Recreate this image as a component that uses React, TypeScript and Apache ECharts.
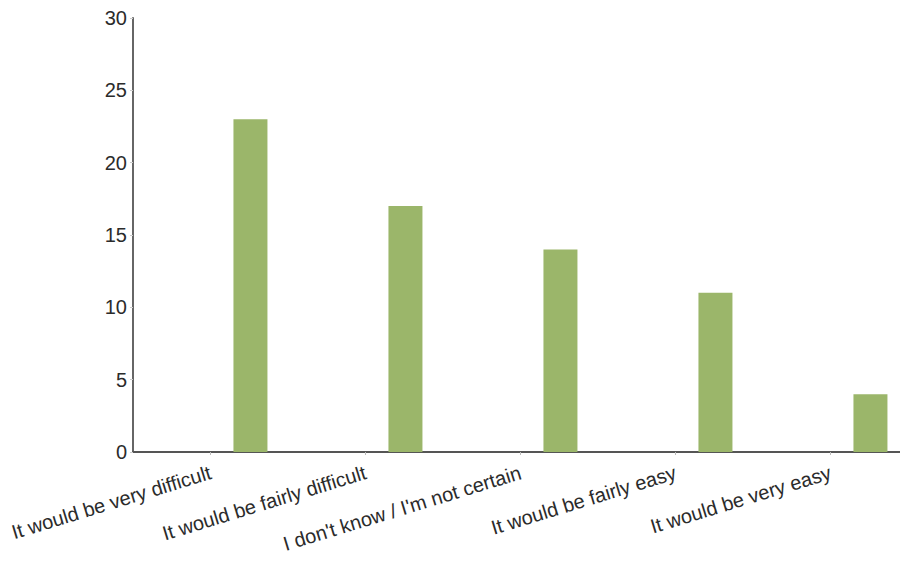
import React, { useEffect, useRef } from "react";
import * as echarts from "echarts";

const categories = [
  "It would be very difficult",
  "It would be fairly difficult",
  "I don't know / I'm not certain",
  "It would be fairly easy",
  "It would be very easy",
];
const placeholderValues = ["-", "-", "-", "-", "-"];
const responseValues = [23, 17, 14, 11, 4];
const yTicks = { min: 0, max: 30, interval: 5 };

export default function App() {
  const ref = useRef<HTMLDivElement>(null);
  useEffect(() => {
    if (!ref.current) return;
    const chart = echarts.init(ref.current, null, { renderer: "svg" });
    chart.setOption({
      animation: false,
      backgroundColor: "#ffffff",
      grid: { left: 133, top: 18, bottom: 115, width: 775, containLabel: false },
      xAxis: {
        type: "category",
        data: categories,
        axisLine: { lineStyle: { color: "#555", width: 2 } },
        axisTick: { show: true, alignWithLabel: true, length: 3, lineStyle: { color: "#bbb" } },
        axisLabel: {
          rotate: 17,
          interval: 0,
          margin: 20,
          fontSize: 20,
          color: "#2b2b2b",
          fontFamily: "Liberation Sans, Arial, sans-serif",
        },
      },
      yAxis: {
        type: "value",
        min: yTicks.min,
        max: yTicks.max,
        interval: yTicks.interval,
        splitLine: { show: false },
        axisLine: { show: true, lineStyle: { color: "#666", width: 2 } },
        axisTick: { show: true, length: 3, lineStyle: { color: "#ccc" } },
        axisLabel: {
          margin: 6,
          fontSize: 20,
          color: "#2b2b2b",
          fontFamily: "Liberation Sans, Arial, sans-serif",
        },
      },
      series: [
        {
          type: "bar",
          data: placeholderValues,
          barWidth: 34,
          barGap: "135%",
          itemStyle: { color: "#9bb66a" },
        },
        {
          type: "bar",
          data: responseValues,
          barWidth: 34,
          barGap: "135%",
          itemStyle: { color: "#9bb66a" },
        },
      ],
    });
    return () => chart.dispose();
  }, []);
  return (
    <div style={{ position: "absolute", left: 0, top: 0, width: 900, height: 567, overflow: "hidden" }}>
      <div ref={ref} style={{ width: 920, height: 567 }} />
    </div>
  );
}
